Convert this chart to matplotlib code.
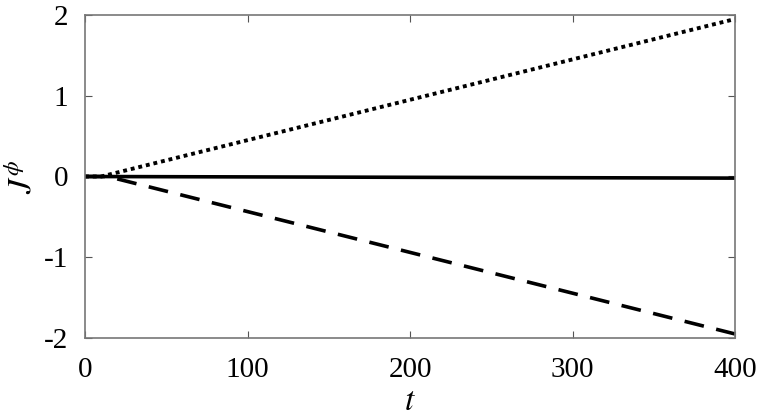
import numpy as np
import matplotlib
matplotlib.use('Agg')
import matplotlib.pyplot as plt

plt.rcParams['font.family'] = 'Liberation Serif'
plt.rcParams['mathtext.fontset'] = 'stix'
plt.rcParams['axes.unicode_minus'] = False

# data
t_dot = [0, 10, 400]
j_dot = [0, 0, 1.95]
t_dash = [0, 14, 400]
j_dash = [0, 0, -1.95]
t_solid = [0, 400]
j_solid = [0, -0.02]

fig = plt.figure(figsize=(7.57, 4.19), dpi=100)
ax = fig.add_axes([85/757, 1 - 338/419, 650/757, 323/419])

ax.plot(t_dot, j_dot, color='k', linestyle=(0, (1, 1)), linewidth=2.8)
ax.plot(t_dash, j_dash, color='k', linestyle=(0, (5.5, 3.5)), linewidth=2.6)
ax.plot(t_solid, j_solid, color='k', linestyle='-', linewidth=2.6)

ax.set_xlim(0, 400)
ax.set_ylim(-2, 2)
ax.set_xticks([0, 100, 200, 300, 400])
ax.set_yticks([-2, -1, 0, 1, 2])
ax.tick_params(direction='in', top=True, right=True, labelsize=21, length=5, color='#555555')
ax.tick_params(axis='x', pad=14)
ax.tick_params(axis='y', pad=12)
for s in ax.spines.values():
    s.set_color('#777777')
    s.set_linewidth(1.2)

ax.set_xlabel(r'$t$', fontsize=24, labelpad=2)
ax.set_ylabel(r'$J^{\phi}$', fontsize=24, labelpad=4)

fig.savefig('out.png', dpi=100)
